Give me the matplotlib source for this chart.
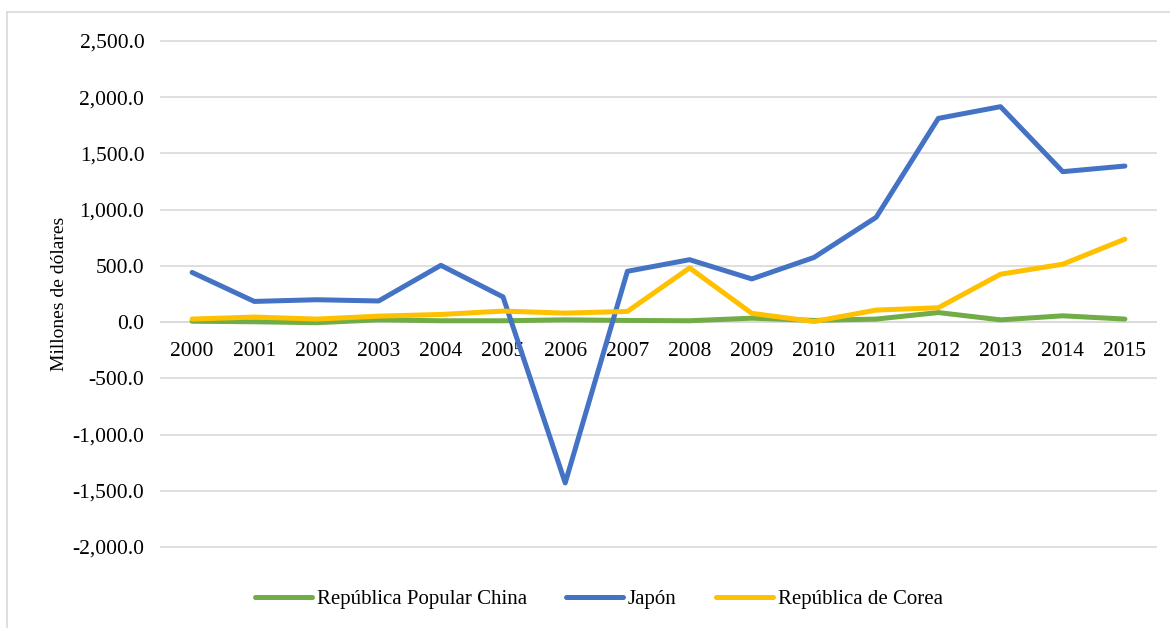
import matplotlib
matplotlib.use('Agg')
import matplotlib.pyplot as plt
from matplotlib.ticker import FuncFormatter
from matplotlib.lines import Line2D

# Años y flujos (millones de dólares)
years = ['2000', '2001', '2002', '2003', '2004', '2005', '2006', '2007',
         '2008', '2009', '2010', '2011', '2012', '2013', '2014', '2015']
china = [8, 3, -5, 20, 12, 12, 20, 15, 12, 35, 15, 27, 85, 20, 56, 27]
japon = [442, 184, 199, 188, 505, 224, -1430, 452, 555, 384, 575, 932, 1812, 1916, 1338, 1388]
corea = [27, 45, 27, 53, 68, 98, 80, 95, 482, 78, 5, 107, 128, 426, 515, 738]

plt.rcParams['font.family'] = ['Liberation Serif', 'DejaVu Serif']

fig = plt.figure(figsize=(11.7, 6.28), dpi=100)
W, H = 1170, 628
ax = fig.add_axes([161 / W, 1 - 547 / H, (1156 - 161) / W, (547 - 41) / H])

x = list(range(len(years)))
lw = 3.6
ax.plot(x, china, color='#70AD47', lw=lw, solid_capstyle='round', solid_joinstyle='round', label='República Popular China')
ax.plot(x, japon, color='#4472C4', lw=lw, solid_capstyle='round', solid_joinstyle='round', label='Japón')
ax.plot(x, corea, color='#FFC000', lw=lw, solid_capstyle='round', solid_joinstyle='round', label='República de Corea')

ax.set_xlim(-0.5, len(years) - 0.5)
ax.set_ylim(-2000, 2500)
ax.set_yticks(range(-2000, 2501, 500))
ax.yaxis.set_major_formatter(FuncFormatter(lambda v, p: f'{v:,.1f}'))
ax.set_xticks(x)
ax.set_xticklabels(years)

ax.grid(axis='y', color='#D9D9D9', lw=1.2)
for gl in ax.get_ygridlines():
    gl.set_clip_on(False)
ax.set_axisbelow(True)
for s in ['top', 'right', 'left']:
    ax.spines[s].set_visible(False)
ax.spines['bottom'].set_position(('data', 0))
ax.spines['bottom'].set_color('#D9D9D9')
ax.spines['bottom'].set_linewidth(1.2)
ax.spines['bottom'].set_zorder(0)
ax.tick_params(axis='both', length=0, labelsize=15.5)
ax.tick_params(axis='y', pad=12)
ax.tick_params(axis='x', pad=14)

ax.set_ylabel('Millones de dólares', fontsize=14)
ax.yaxis.set_label_coords((68 - 161) / 995, 0.5)

handles = [Line2D([], [], color='#70AD47', lw=lw, solid_capstyle='round'),
           Line2D([], [], color='#4472C4', lw=lw, solid_capstyle='round'),
           Line2D([], [], color='#FFC000', lw=lw, solid_capstyle='round')]
fig.legend(handles, ['República Popular China', 'Japón', 'República de Corea'],
           loc='center', bbox_to_anchor=(0.512, 1 - 599 / H), ncol=3, frameon=False,
           fontsize=15, handlelength=2.7, handletextpad=0.25, columnspacing=1.9)

# borde del área del gráfico
fig.add_artist(Line2D([7 / W, 7 / W], [0, 1 - 12 / H], color='#D9D9D9', lw=1.2))
fig.add_artist(Line2D([7 / W, 1], [1 - 12 / H, 1 - 12 / H], color='#D9D9D9', lw=1.2))

fig.savefig('out.png', dpi=100)
